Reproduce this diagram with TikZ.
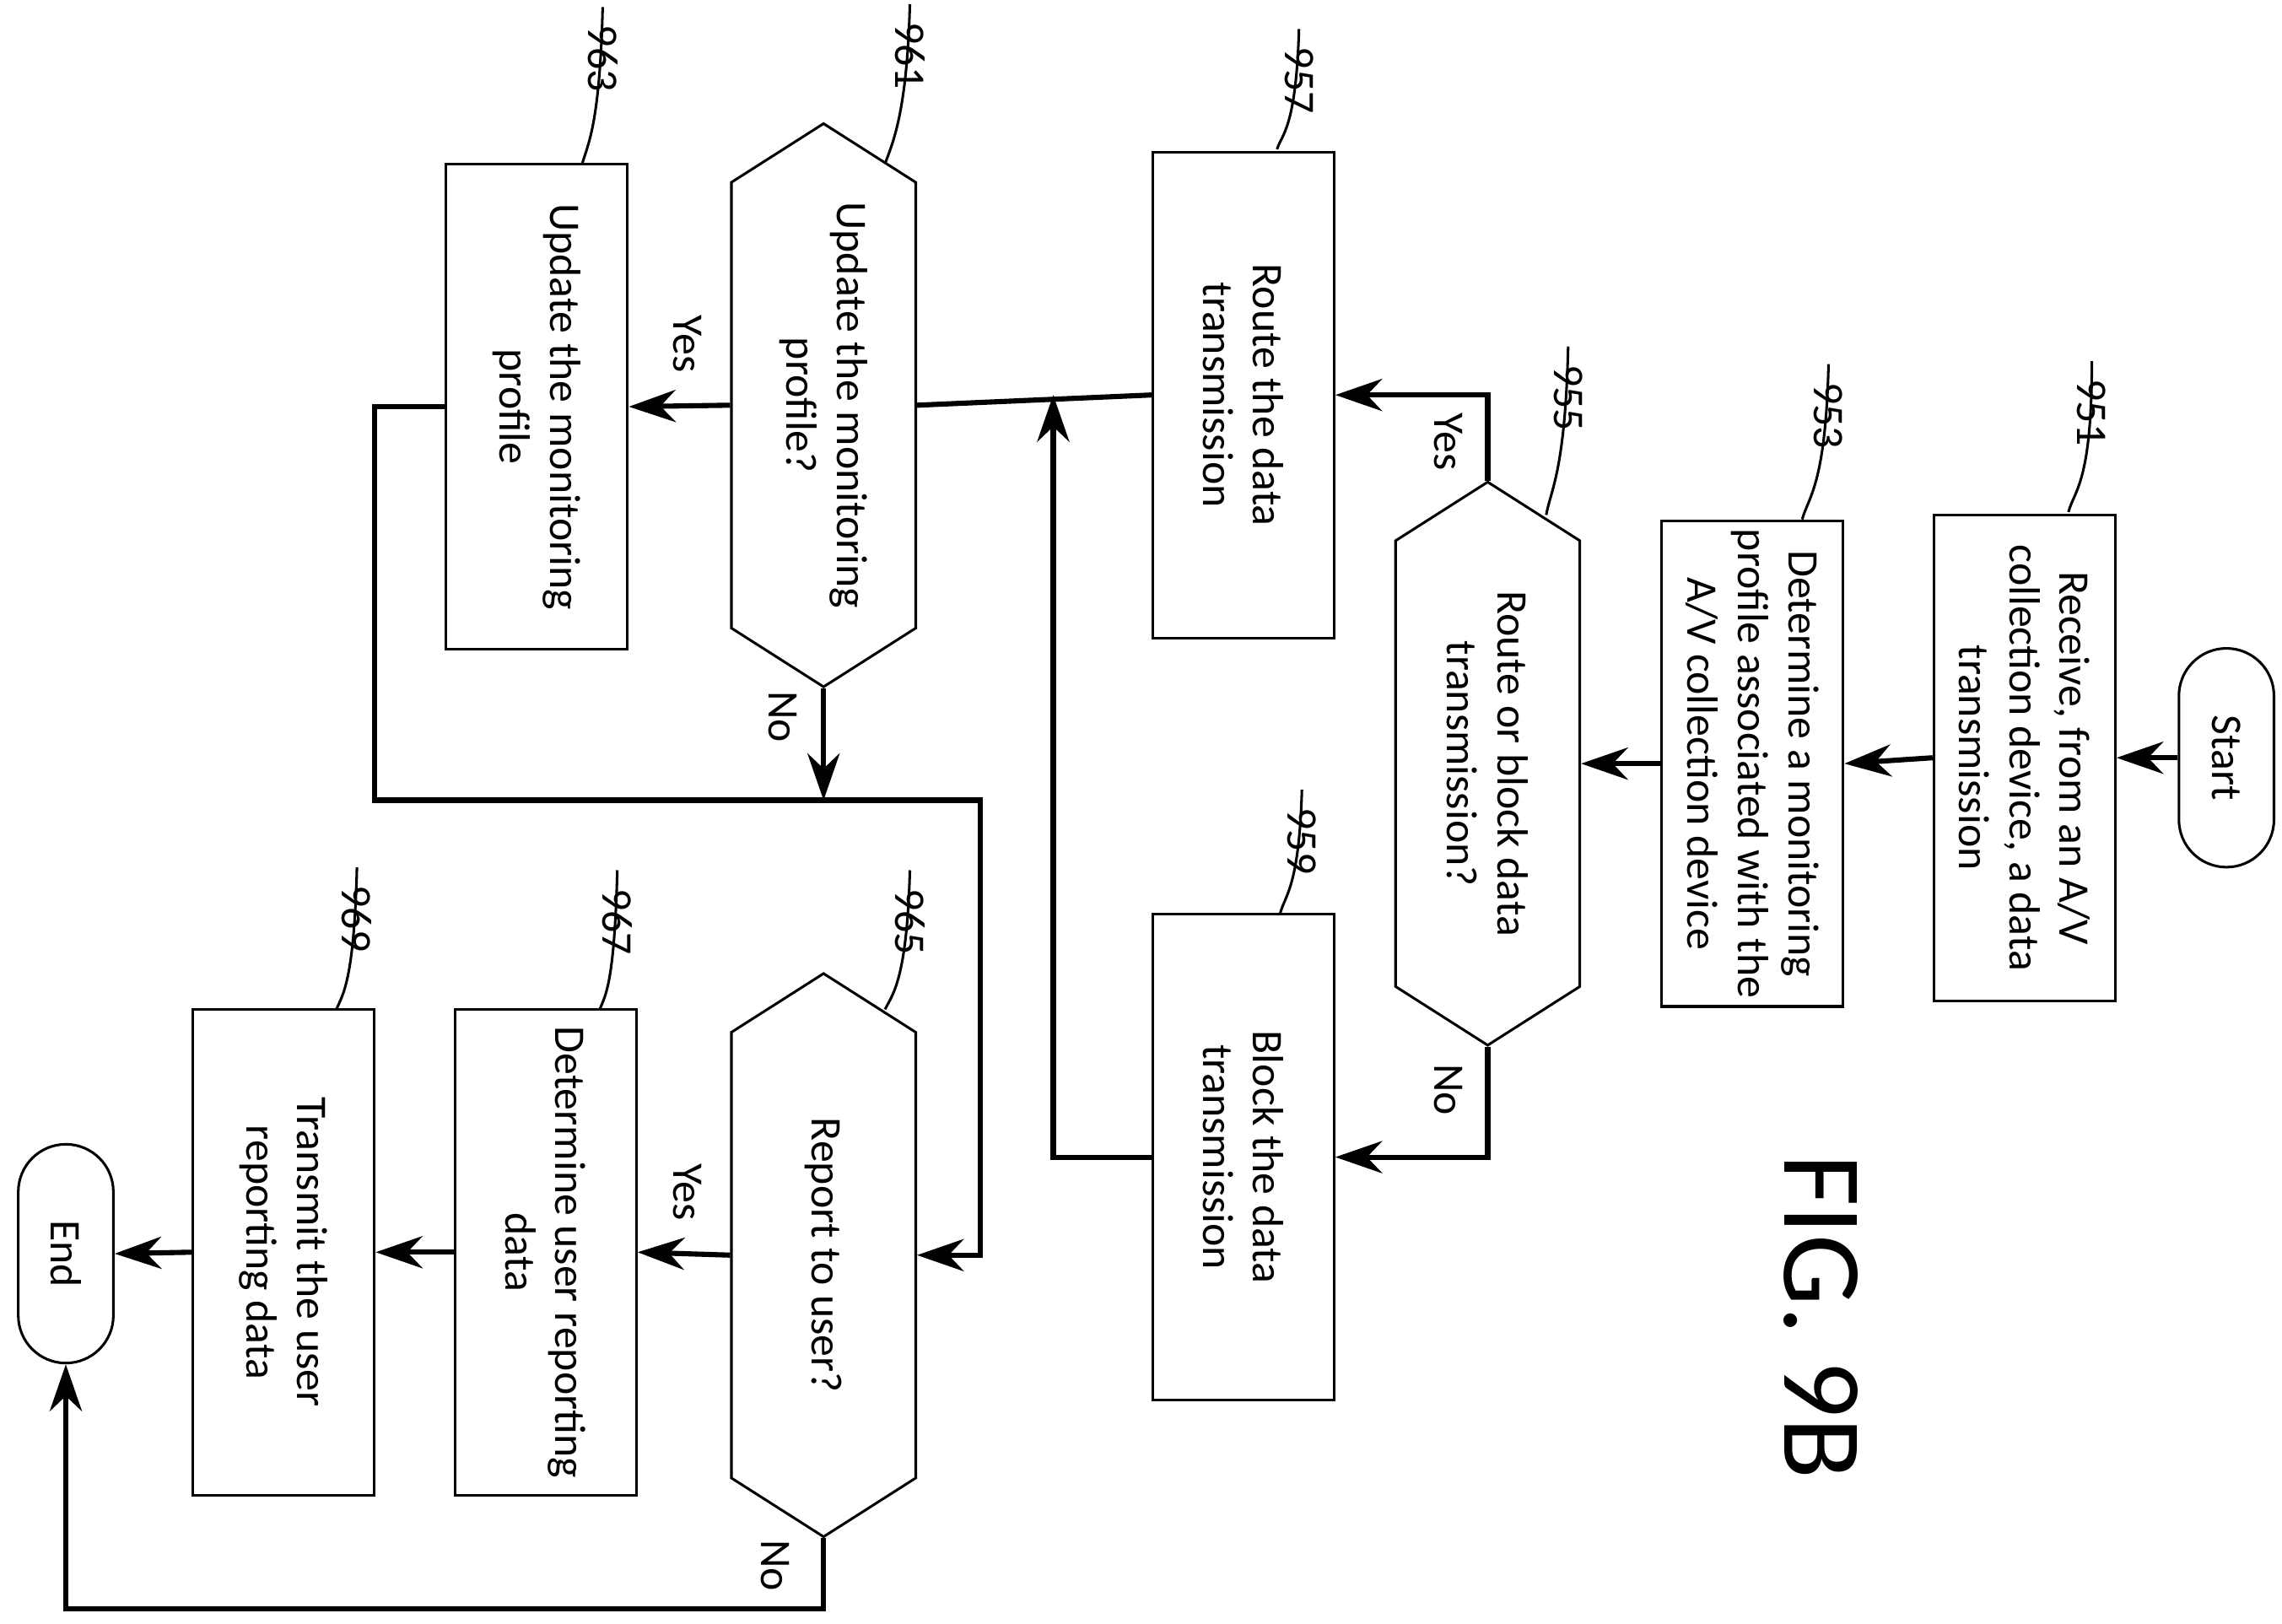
\documentclass[tikz,border=0pt]{standalone}
\usepackage{fontspec}
\setmainfont{Carlito}
\usetikzlibrary{shapes.symbols,shapes.misc,arrows.meta}
\begin{document}
\begin{tikzpicture}[x=0.1mm,y=-0.1mm,
  every node/.style={font=\fontsize{8.5}{9.8}\selectfont,align=center,rotate=-90},
  box/.style={draw,line width=0.5pt,minimum width=33.2mm,minimum height=12.4mm,inner sep=1pt},
  hex/.style={draw,line width=0.5pt,signal,signal to=east and west,signal pointer angle=115,minimum width=38.5mm,minimum height=12.6mm,inner sep=1pt},
  capsule/.style={draw,line width=0.5pt,rounded rectangle,minimum width=17.3mm,minimum height=6.5mm},
  ln/.style={line width=1pt},
  ar/.style={line width=1pt,-{Stealth[length=3.2mm,width=2.2mm]}},
  lead/.style={line width=0.5pt},
  ref/.style={font=\fontsize{8.5}{10}\selectfont}]
\useasboundingbox (0,0) rectangle (1560,1110);
\node[capsule] (start) at (1522,518) {Start};
\node[box] (b951) at (1384,518) {Receive, from an A/V\\collection device, a data\\transmission};
\node[box] (b953) at (1198,522) {Determine a monitoring\\profile associated with the\\A/V collection device};
\node[hex] (h955) at (1017,522) {Route or block data\\transmission?};
\node[box] (b957) at (850,270) {Route the data\\transmission};
\node[box] (b959) at (850,791) {Block the data\\transmission};
\node[hex] (h961) at (563,277) {Update the monitoring\\profile?};
\node[box] (b963) at (367,278) {Update the monitoring\\profile};
\node[hex] (h965) at (563,858) {Report to user?};
\node[box] (b967) at (373,856) {Determine user reporting\\data};
\node[box] (b969) at (194,856) {Transmit the user\\reporting data};
\node[capsule] (end) at (45,857) {End};
\node[font=\fontsize{22}{24}\selectfont] (fig) at (1245,900) {FIG. 9B};
\coordinate (j1) at (720,270);
\coordinate (j2) at (563,547);
% connectors
\draw[ar] (start.south) -- (b951.north);
\draw[ar] (b951.south) -- (b953.north);
\draw[ar] (b953.south) -- (h955.north);
\draw[ar] (h955.west) |- (b957.north);
\draw[ar] (h955.east) |- (b959.north);
\draw[ln] (b957.south) -- (h961.north);
\draw[ar] (b959.south) -| (j1);
\draw[ar] (h961.south) -- (b963.north);
\draw[ar] (h961.east) -- (j2);
\draw[ar] (b963.south) -- ++(-48,0) |- (670,547) |- (h965.north);
\draw[ar] (h965.south) -- (b967.north);
\draw[ar] (b967.south) -- (b969.north);
\draw[ar] (b969.south) -- (end.north);
\draw[ar] (h965.east) |- (45,1100) -- (end.east);
% yes/no
\node (y1) at (990,302) {Yes};
\node (n1) at (990,745) {No};
\node (y2) at (470,235) {Yes};
\node (n2) at (535,490) {No};
\node (y3) at (470,815) {Yes};
\node (n3) at (530,1070) {No};
% reference numbers
\node[ref] (r951) at (1430,282) {951};
\node[ref] (r953) at (1250,284) {953};
\node[ref] (r955) at (1072,272) {955};
\node[ref] (r957) at (888,55) {957};
\node[ref] (r959) at (890,575) {959};
\node[ref] (r961) at (622,38) {961};
\node[ref] (r963) at (412,40) {963};
\node[ref] (r965) at (622,630) {965};
\node[ref] (r967) at (422,630) {967};
\node[ref] (r969) at (244,628) {969};
\draw[lead] (1414,350) .. controls (1418,335) and (1430,330) .. (r951.west);
\draw[lead] (1232,355) .. controls (1236,340) and (1248,332) .. (r953.west);
\draw[lead] (1057,352) .. controls (1060,335) and (1070,322) .. (r955.west);
\draw[lead] (873,102) .. controls (876,92) and (886,88) .. (r957.west);
\draw[lead] (875,625) .. controls (878,612) and (888,608) .. (r959.west);
\draw[lead] (605,112) .. controls (610,98) and (620,78) .. (r961.west);
\draw[lead] (398,112) .. controls (402,98) and (410,85) .. (r963.west);
\draw[lead] (605,690) .. controls (610,680) and (620,670) .. (r965.west);
\draw[lead] (410,690) .. controls (414,680) and (420,672) .. (r967.west);
\draw[lead] (230,690) .. controls (234,680) and (242,672) .. (r969.west);
\end{tikzpicture}
\end{document}
